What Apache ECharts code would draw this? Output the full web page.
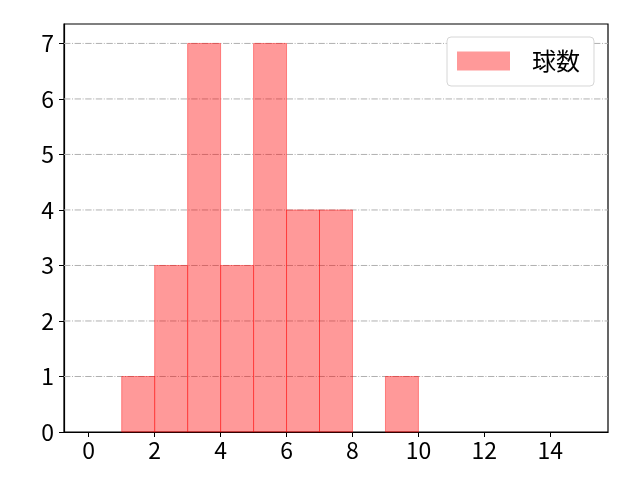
<!DOCTYPE html>
<html>
<head>
<meta charset="utf-8">
<script src="https://cdn.jsdelivr.net/npm/echarts@6/dist/echarts.min.js"></script>
<style>
html,body{margin:0;padding:0;background:#fff;}
#main{width:640px;height:480px;}
</style>
</head>
<body>
<div id="main"></div>
<script>
// Histogram bins (start, end) and counts
const binStarts = [1, 2, 3, 4, 5, 6, 7, 8, 9];
const binEnds   = [2, 3, 4, 5, 6, 7, 8, 9, 10];
const counts    = [1, 3, 7, 3, 7, 4, 4, 0, 1];
const xTicks = [0, 2, 4, 6, 8, 10, 12, 14];
const yTicks = [0, 1, 2, 3, 4, 5, 6, 7];
const seriesName = '球数';

const font = '"Noto Sans CJK JP", "Noto Sans", sans-serif';
const data = binStarts.map((s, i) => [s, binEnds[i], counts[i]]);

const chart = echarts.init(document.getElementById('main'), null, {renderer: 'canvas'});
chart.setOption({
  animation: false,
  backgroundColor: '#fff',
  grid: {left: 64, right: 32, top: 24, bottom: 48, containLabel: false,
    show: true, borderColor: '#000', borderWidth: 1.2, backgroundColor: 'transparent'},
  legend: {
    data: [{name: seriesName, icon: 'rect'}],
    left: 447, top: 37,
    padding: [12, 14, 13, 10],
    itemWidth: 53, itemHeight: 19,
    backgroundColor: '#fff',
    borderColor: '#d6d6d6', borderWidth: 1, borderRadius: 4,
    textStyle: {fontFamily: font, fontSize: 24, color: '#000', padding: [0, 0, 0, 17], lineHeight: 21}
  },
  xAxis: {
    type: 'value', min: -0.75, max: 15.75,
    axisLine: {show: true, onZero: false, lineStyle: {color: '#000', width: 1.2}},
    axisTick: {show: true, length: 5, customValues: xTicks, lineStyle: {color: '#000'}},
    axisLabel: {customValues: xTicks, fontFamily: font, fontSize: 23, color: '#000', margin: 7},
    splitLine: {show: false}
  },
  yAxis: {
    type: 'value', min: 0, max: 7.35,
    axisLine: {show: true, onZero: false, lineStyle: {color: '#000', width: 1.2}},
    axisTick: {show: true, length: 5, customValues: yTicks, lineStyle: {color: '#000'}},
    axisLabel: {customValues: yTicks, fontFamily: font, fontSize: 23, color: '#000', margin: 10},
    splitLine: {show: false}
  },
  series: [
    {
      type: 'custom', name: 'grid', silent: true, z: 1,
      data: yTicks.slice(1).map(v => [v]),
      encode: {y: 0},
      renderItem: function (params, api) {
        const v = api.value(0);
        const p1 = api.coord([-0.75, v]);
        const p2 = api.coord([15.75, v]);
        return {type: 'line', shape: {x1: p1[0], y1: p1[1], x2: p2[0], y2: p2[1]},
          style: {stroke: '#b0b0b0', lineWidth: 1, lineDash: [6.4, 1.6, 1, 1.6]}};
      }
    },
    {
      type: 'custom', name: seriesName, z: 2,
      data: data,
      encode: {x: [0, 1], y: 2},
      itemStyle: {color: 'rgba(255,0,0,0.4)'},
      renderItem: function (params, api) {
        const h = api.value(2);
        if (!h) return null;
        const p0 = api.coord([api.value(0), 0]);
        const p1 = api.coord([api.value(1), h]);
        return {type: 'rect',
          shape: {x: p0[0], y: p1[1], width: p1[0] - p0[0], height: p0[1] - p1[1]},
          style: {fill: 'rgba(255,0,0,0.4)', stroke: 'rgba(255,0,0,0.4)', lineWidth: 1}};
      }
    }
  ]
});
</script>
</body>
</html>
